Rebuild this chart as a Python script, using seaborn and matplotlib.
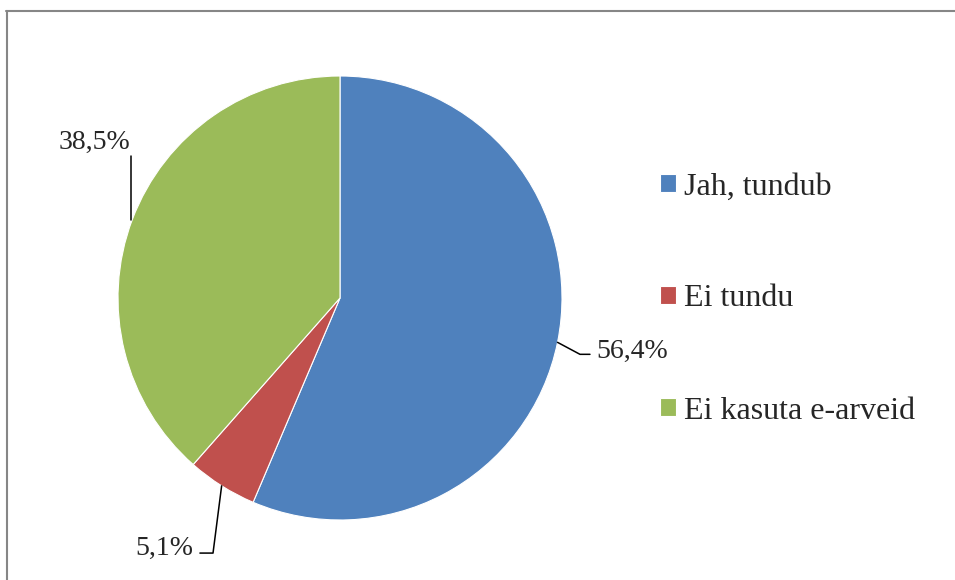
import numpy as np
import matplotlib
matplotlib.use("Agg")
import matplotlib.pyplot as plt
from matplotlib.lines import Line2D
import seaborn as sns

categories = ["Jah, tundub", "Ei tundu", "Ei kasuta e-arveid"]
values = [56.4, 5.1, 38.5]
labels = ["56,4%", "5,1%", "38,5%"]
colors = ["#4F81BD", "#C0504D", "#9BBB59"]

sns.set_style("white")
plt.rcParams["font.family"] = ["Liberation Serif", "DejaVu Serif"]

W, H = 955, 580
fig = plt.figure(figsize=(W / 100, H / 100), dpi=100)
fig.patch.set_facecolor("white")

cx, cy, r = 340, 298, 222
ax = fig.add_axes([(cx - r) / W, (H - cy - r) / H, 2 * r / W, 2 * r / H])
wedges, _ = ax.pie(values, colors=colors, startangle=90, counterclock=False,
                   radius=1.0, wedgeprops=dict(edgecolor="white", linewidth=0.8))
ax.set_xlim(-1, 1)
ax.set_ylim(-1, 1)
ax.set_aspect("equal")
ax.axis("off")

# leader lines and labels
total = sum(values)
cum = 0.0
mids = []
for v in values:
    mid = 90 - (cum + v / 2) / total * 360
    mids.append(np.deg2rad(mid))
    cum += v

# 56,4%
a = mids[0]
x0, y0 = np.cos(a), np.sin(a)
x1, y1 = 1.081, y0 - 0.054
x2 = 1.126
ax.plot([x0, x1, x2], [y0, y1, y1], color="black", lw=1.1, clip_on=False)
ax.text(1.153, y1 + 0.012, labels[0], ha="left", va="center", fontsize=20, clip_on=False)

# 5,1%
a = mids[1]
x0, y0 = np.cos(a), np.sin(a)
ax.plot([x0, -0.572, -0.631], [y0, -1.149, -1.149], color="black", lw=1.1, clip_on=False)
ax.text(-0.66, -1.126, labels[1], ha="right", va="center", fontsize=20, clip_on=False)

# 38,5%
a = mids[2]
x0, y0 = np.cos(a), np.sin(a)
ax.plot([x0 - 0.006, x0 - 0.006], [y0, 0.640], color="black", lw=1.1, clip_on=False)
ax.text(-0.944, 0.703, labels[2], ha="right", va="center", fontsize=20, clip_on=False)

# legend
leg = fig.legend(wedges, categories, loc="center left",
                 bbox_to_anchor=(660 / W, (H - 299) / H),
                 frameon=False, fontsize=23, borderpad=0, borderaxespad=0,
                 handlelength=0.5, handleheight=0.5, handletextpad=0.25,
                 labelspacing=2.6)

# chart border (top and left visible)
fig.add_artist(Line2D([7 / W, 7 / W], [0, 1 - 11 / H], transform=fig.transFigure,
                      color="#868686", lw=1.5))
fig.add_artist(Line2D([6 / W, 1], [1 - 11 / H, 1 - 11 / H], transform=fig.transFigure,
                      color="#868686", lw=1.5))

fig.savefig("out.png", dpi=100, facecolor="white")
